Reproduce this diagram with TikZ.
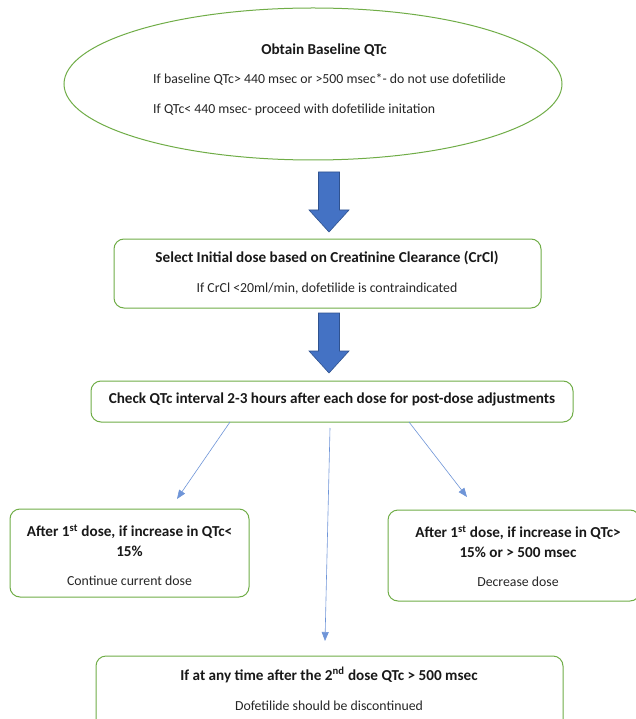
\documentclass[tikz,border=0pt]{standalone}
\usepackage{fontspec}
\setmainfont{Carlito}
\usetikzlibrary{shapes.geometric,arrows.meta}
\definecolor{gr}{HTML}{70AD47}
\definecolor{bl}{HTML}{4472C4}
\definecolor{bld}{HTML}{2F528F}
\definecolor{lbl}{HTML}{6F95D8}
\tikzset{
  box/.style={draw=gr, line width=1pt, rounded corners=10pt, fill=white},
  ttl/.style={font=\fontsize{15.2}{18}\selectfont\bfseries, inner sep=0pt, text=black!90},
  sub/.style={font=\fontsize{13.8}{16}\selectfont, inner sep=0pt, text=black!85},
  thin/.style={draw=lbl, line width=0.6pt, -{Triangle[width=7pt,length=9pt]}},
  blockarrow/.style={fill=bl, draw=bld, line width=0.6pt}
}
\newcommand{\blockarr}[2]{% x top
  \fill[blockarrow] (#1-10.5,#2) -- (#1+10.5,#2) -- (#1+10.5,#2+38) -- (#1+20,#2+38)
   -- (#1,#2+60) -- (#1-20,#2+38) -- (#1-10.5,#2+38) -- cycle;}
\begin{document}
\begin{tikzpicture}[x=1pt,y=-1pt]
\useasboundingbox (0,0) rectangle (636,719);
\fill[white] (0,0) rectangle (636,719);
% ellipse
\node[draw=gr, line width=1pt, ellipse, minimum width=498pt, minimum height=152pt, inner sep=0pt] (e) at (313,84) {};
\node[ttl] (e1) at (324,50) {Obtain Baseline QTc};
\node[sub, anchor=west] (e2) at (153,80) {If baseline QTc> 440 msec or >500 msec*- do not use dofetilide};
\node[sub, anchor=west] (e3) at (153,110) {If QTc< 440 msec- proceed with dofetilide initation};
% block arrows
\blockarr{329}{172}
\blockarr{329}{313}
% box 2
\node[box, minimum width=427pt, minimum height=69pt] (b2) at (327.5,273.5) {};
\node[ttl] (b2a) at (327,258) {Select Initial dose based on Creatinine Clearance (CrCl)};
\node[sub] (b2b) at (327,289) {If CrCl <20ml/min, dofetilide is contraindicated};
% box 3
\node[box, minimum width=482pt, minimum height=41pt] (b3) at (332,401.5) {};
\node[ttl] (b3a) at (332,399) {Check QTc interval 2-3 hours after each dose for post-dose adjustments};
% left box
\node[box, minimum width=239pt, minimum height=88pt] (bl) at (129.5,553) {};
\node[ttl, align=center] (bla) at (129.5,541) {After 1\textsuperscript{st} dose, if increase in QTc<\\[2pt]15\%};
\node[sub] (blb) at (129.5,581) {Continue current dose};
% right box
\node[box, minimum width=252pt, minimum height=91pt] (br) at (514,555.5) {};
\node[ttl, align=center] (bra) at (518,542) {After 1\textsuperscript{st} dose, if increase in QTc>\\[2pt]15\% or > 500 msec};
\node[sub] (brb) at (518,582) {Decrease dose};
% bottom box
\node[box, minimum width=467pt, minimum height=80pt] (bb) at (329.5,696) {};
\node[ttl] (bba) at (329,675) {If at any time after the 2\textsuperscript{nd} dose QTc > 500 msec};
\node[sub] (bbb) at (329,706) {Dofetilide should be discontinued};
% thin arrows
\coordinate (s1) at (230,422);
\coordinate (t1) at (177,499);
\coordinate (s2) at (409,422);
\coordinate (t2) at (467,497);
\coordinate (s3) at (330,428);
\coordinate (t3) at (325,641);
\draw[thin] (s1) -- (t1);
\draw[thin] (s2) -- (t2);
\draw[thin] (s3) -- (t3);
\end{tikzpicture}
\end{document}
